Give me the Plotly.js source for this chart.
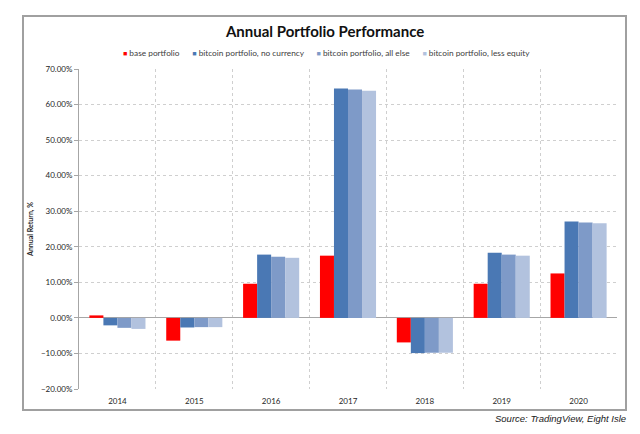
<!DOCTYPE html>
<html>
<head>
<meta charset="utf-8">
<script src="https://cdn.plot.ly/plotly-3.0.1.min.js"></script>
<style>
  html, body { margin: 0; padding: 0; background: #fff; }
  #chart { width: 640px; height: 434px; }
</style>
</head>
<body>
<div id="chart"></div>
<script>
/* Annual portfolio returns, % */
const YEARS = ["2014", "2015", "2016", "2017", "2018", "2019", "2020"];
const BASE = [0.7, -6.4, 9.6, 17.5, -6.9, 9.6, 12.5];
const NO_CURRENCY = [-2.1, -2.7, 17.8, 64.5, -9.9, 18.3, 27.1];
const ALL_ELSE = [-2.8, -2.6, 17.2, 64.2, -9.8, 17.8, 26.8];
const LESS_EQUITY = [-3.1, -2.6, 16.9, 63.9, -9.8, 17.5, 26.6];

const SERIES_NAMES = [
  "base portfolio",
  "bitcoin portfolio, no currency",
  "bitcoin portfolio, all else",
  "bitcoin portfolio, less equity",
];
const SERIES_VALUES = [BASE, NO_CURRENCY, ALL_ELSE, LESS_EQUITY];
const COLORS = ["#ff0000", "#4a78b4", "#7e9ac8", "#b2c2de"];

const INK = "#262626";
const AXIS = "#a6a6a6";
const GRID = "#cfcfcf";
const FONT = 'Lato, "Open Sans", sans-serif';

const traces = SERIES_NAMES.map((name, i) => ({
  type: "bar",
  name,
  x: YEARS,
  y: SERIES_VALUES[i],
  marker: { color: COLORS[i], line: { width: 0 } },
  hovertemplate: `%{y:.2f}%<extra>${name}</extra>`,
}));

// hand-built legend line: tight swatch + label like the Excel original
const legendText = SERIES_NAMES.map((n, i) =>
  `<span style="color:${COLORS[i]};font-size:7px">■</span> ${n}`
).join("&nbsp;&nbsp;&nbsp;&nbsp;&nbsp;&nbsp;");

// plot area is 79..617 px wide, 69..389 px tall; frame drawn in paper units
const PX = (px) => (px - 79) / 538;
const PY = (py) => (389 - py) / 320;

const layout = {
  width: 640,
  height: 434,
  paper_bgcolor: "#ffffff",
  plot_bgcolor: "#ffffff",
  font: { family: FONT, color: INK, size: 8 },
  margin: { l: 79, r: 23, t: 69, b: 45, pad: 0 },
  showlegend: false,
  bargap: 0.27,
  bargroupgap: 0,
  barmode: "group",
  title: {
    text: "<b>Annual Portfolio Performance</b>",
    font: { family: FONT, size: 15, color: "#111" },
    xref: "container", x: 0.508, xanchor: "center",
    yref: "container", y: 1 - 32 / 434, yanchor: "middle",
  },
  xaxis: {
    type: "category",
    tickson: "boundaries",
    showgrid: true,
    gridcolor: GRID,
    griddash: "dot",
    gridwidth: 1,
    ticks: "",
    showline: false,
    zeroline: false,
    tickfont: { size: 8, color: INK },
    ticklabelstandoff: 6,
  },
  yaxis: {
    range: [-20, 70],
    dtick: 10,
    tickformat: ".2f",
    ticksuffix: "%",
    showgrid: true,
    gridcolor: GRID,
    griddash: "dot",
    gridwidth: 1,
    zeroline: true,
    zerolinecolor: AXIS,
    zerolinewidth: 1,
    showline: true,
    linecolor: AXIS,
    linewidth: 1,
    ticks: "outside",
    ticklen: 4,
    tickcolor: AXIS,
    tickfont: { size: 8, color: INK },
    title: {
      text: "<b>Annual Return, %</b>",
      font: { size: 7, color: INK },
      standoff: 6,
    },
  },
  shapes: [{
    type: "rect", xref: "paper", yref: "paper",
    x0: PX(23), x1: PX(626), y0: PY(410), y1: PY(16),
    line: { color: "#a0a0a0", width: 2 },
    fillcolor: "rgba(0,0,0,0)",
    layer: "below",
  }],
  annotations: [
    {
      xref: "paper", yref: "paper",
      x: PX(326), y: PY(53), xanchor: "center", yanchor: "middle",
      text: legendText, showarrow: false,
      font: { size: 8.3, color: "#404040", family: FONT },
    },
    {
      xref: "paper", yref: "paper",
      x: PX(628), y: PY(418), xanchor: "right", yanchor: "middle",
      text: "<i>Source: TradingView, Eight Isle</i>", showarrow: false,
      font: { size: 9.5, color: "#1a1a1a", family: '"Liberation Sans", Arial, sans-serif' },
    },
  ],
};

Plotly.newPlot("chart", traces, layout, { displayModeBar: false, staticPlot: true });
</script>
</body>
</html>
